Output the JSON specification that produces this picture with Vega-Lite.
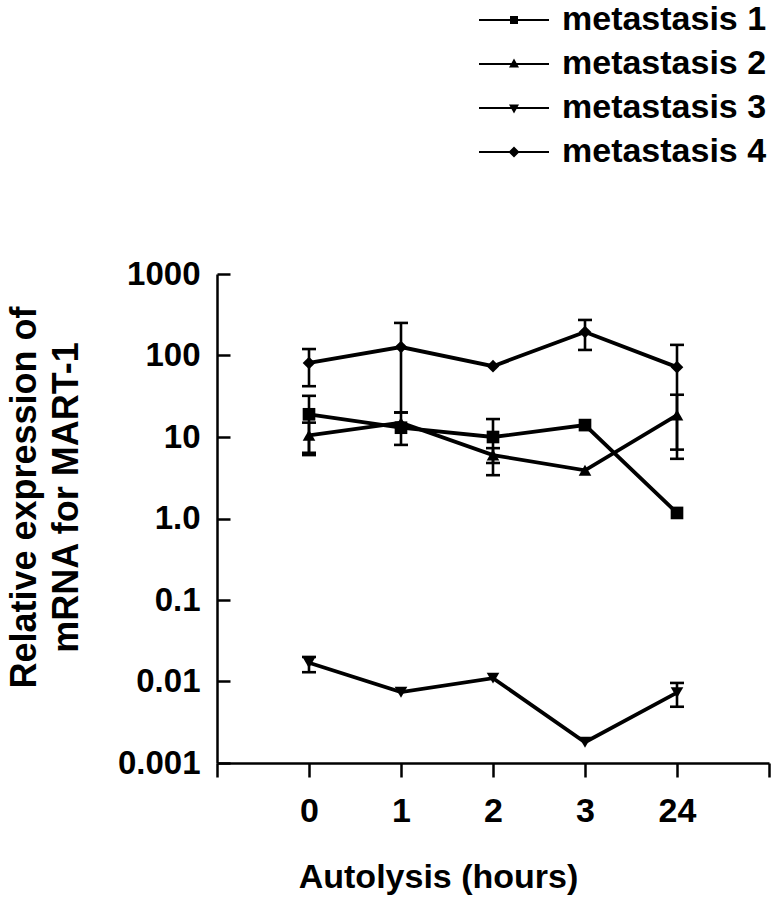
{
  "$schema": "https://vega.github.io/schema/vega-lite/v6.json",
  "width": 552,
  "height": 489,
  "autosize": {"type": "none"},
  "padding": {"left": 217, "top": 274, "right": 4, "bottom": 137},
  "background": "white",
  "config": {"font": "Liberation Sans", "view": {"stroke": null}},
  "data": {
    "values": [
      {"series": "metastasis 1", "hour": "0", "value": 19, "lo": 6.4, "hi": 32},
      {"series": "metastasis 1", "hour": "1", "value": 13, "lo": 8, "hi": 20},
      {"series": "metastasis 1", "hour": "2", "value": 10, "lo": 3.4, "hi": 16.6},
      {"series": "metastasis 1", "hour": "3", "value": 14, "lo": null, "hi": null},
      {"series": "metastasis 1", "hour": "24", "value": 1.17, "lo": null, "hi": null},
      {"series": "metastasis 2", "hour": "0", "value": 10.5, "lo": 6, "hi": 15},
      {"series": "metastasis 2", "hour": "1", "value": 15, "lo": null, "hi": null},
      {"series": "metastasis 2", "hour": "2", "value": 6, "lo": 4.8, "hi": 7.3},
      {"series": "metastasis 2", "hour": "3", "value": 3.9, "lo": null, "hi": null},
      {"series": "metastasis 2", "hour": "24", "value": 18.6, "lo": 5.4, "hi": 33},
      {"series": "metastasis 3", "hour": "0", "value": 0.017, "lo": 0.013, "hi": 0.02},
      {"series": "metastasis 3", "hour": "1", "value": 0.0074, "lo": null, "hi": null},
      {"series": "metastasis 3", "hour": "2", "value": 0.011, "lo": null, "hi": null},
      {"series": "metastasis 3", "hour": "3", "value": 0.0018, "lo": null, "hi": null},
      {"series": "metastasis 3", "hour": "24", "value": 0.0073, "lo": 0.0049, "hi": 0.0096},
      {"series": "metastasis 4", "hour": "0", "value": 81, "lo": 42, "hi": 120},
      {"series": "metastasis 4", "hour": "1", "value": 127, "lo": 20, "hi": 251},
      {"series": "metastasis 4", "hour": "2", "value": 74, "lo": null, "hi": null},
      {"series": "metastasis 4", "hour": "3", "value": 194, "lo": 117, "hi": 273},
      {"series": "metastasis 4", "hour": "24", "value": 72, "lo": 7, "hi": 135}
    ]
  },
  "encoding": {
    "x": {
      "field": "hour",
      "type": "ordinal",
      "scale": {"type": "point", "domain": ["start", "0", "1", "2", "3", "24", "end"], "padding": 0},
      "axis": {
        "title": "Autolysis (hours)",
        "labelExpr": "datum.value == 'start' || datum.value == 'end' ? '' : datum.value",
        "labelAngle": 0,
        "labelFontSize": 34,
        "labelFontWeight": "bold",
        "labelColor": "black",
        "labelPadding": 17,
        "tickSize": 14,
        "tickWidth": 2.5,
        "tickColor": "black",
        "domainColor": "black",
        "domainWidth": 2.5,
        "grid": false,
        "titleFontSize": 34,
        "titleFontWeight": "bold",
        "titleColor": "black",
        "titleX": 221,
        "titleY": 124,
        "titleAlign": "center",
        "titleBaseline": "alphabetic"
      }
    }
  },
  "layer": [
    {
      "mark": {"type": "line", "color": "black", "strokeWidth": 3.8},
      "encoding": {
        "y": {
          "field": "value",
          "type": "quantitative",
          "scale": {"type": "log", "domain": [0.001, 1000]},
          "axis": {
            "title": ["Relative expression of", "mRNA for MART-1"],
            "values": [0.001, 0.01, 0.1, 1, 10, 100, 1000],
            "labelExpr": "datum.value == 1 ? '1.0' : '' + datum.value",
            "labelFontSize": 33,
            "labelFontWeight": "bold",
            "labelColor": "black",
            "labelPadding": 30,
            "tickSize": -13,
            "tickWidth": 2.5,
            "tickColor": "black",
            "domainColor": "black",
            "domainWidth": 2.5,
            "grid": false,
            "titleFontSize": 36,
            "titleFontWeight": "bold",
            "titleColor": "black",
            "titleLineHeight": 42,
            "titleAngle": -90,
            "titleX": -182,
            "titleY": 223,
            "titleAlign": "center",
            "titleBaseline": "alphabetic"
          }
        },
        "detail": {"field": "series", "type": "nominal"}
      }
    },
    {
      "transform": [{"filter": "isValid(datum.lo)"}],
      "mark": {"type": "rule", "color": "black", "strokeWidth": 2.6},
      "encoding": {
        "y": {"field": "lo", "type": "quantitative"},
        "y2": {"field": "hi"}
      }
    },
    {
      "transform": [{"filter": "isValid(datum.lo)"}],
      "mark": {"type": "tick", "color": "black", "thickness": 2.6, "size": 14, "opacity": 1},
      "encoding": {"y": {"field": "lo", "type": "quantitative"}}
    },
    {
      "transform": [{"filter": "isValid(datum.hi)"}],
      "mark": {"type": "tick", "color": "black", "thickness": 2.6, "size": 14, "opacity": 1},
      "encoding": {"y": {"field": "hi", "type": "quantitative"}}
    },
    {
      "mark": {"type": "point", "filled": true, "color": "black", "opacity": 1, "size": 160},
      "encoding": {
        "y": {"field": "value", "type": "quantitative"},
        "shape": {
          "field": "series",
          "type": "nominal",
          "scale": {"range": ["square", "triangle-up", "triangle-down", "diamond"]},
          "legend": null
        }
      }
    },
    {
      "transform": [{"filter": "false"}],
      "mark": {"type": "point", "filled": true, "color": "black", "opacity": 1},
      "encoding": {
        "y": {"field": "value", "type": "quantitative"},
        "shape": {
          "field": "series",
          "type": "nominal",
          "scale": {
            "domain": ["metastasis 1", "metastasis 2", "metastasis 3", "metastasis 4"],
            "range": [
              "M-7,-0.22H7V0.22H-7Z M-0.8,-0.8H0.8V0.8H-0.8Z",
              "M-7,-0.22H7V0.22H-7Z M0,-1.1L1,0.7L-1,0.7Z",
              "M-7,-0.22H7V0.22H-7Z M0,1.1L-1,-0.7L1,-0.7Z",
              "M-7,-0.22H7V0.22H-7Z M0,-1.1L1.1,0L0,1.1L-1.1,0Z"
            ]
          },
          "legend": {
            "title": null,
            "orient": "none",
            "legendX": 280,
            "legendY": -271,
            "padding": 0,
            "symbolSize": 100,
            "symbolFillColor": "black",
            "symbolOpacity": 1,
            "symbolStrokeWidth": 0,
            "labelFontSize": 34,
            "labelFontWeight": "bold",
            "labelColor": "black",
            "labelLimit": 400,
            "labelOffset": 31,
            "rowPadding": 10
          }
        }
      }
    }
  ],
  "resolve": {"scale": {"shape": "independent"}, "legend": {"shape": "independent"}}
}
